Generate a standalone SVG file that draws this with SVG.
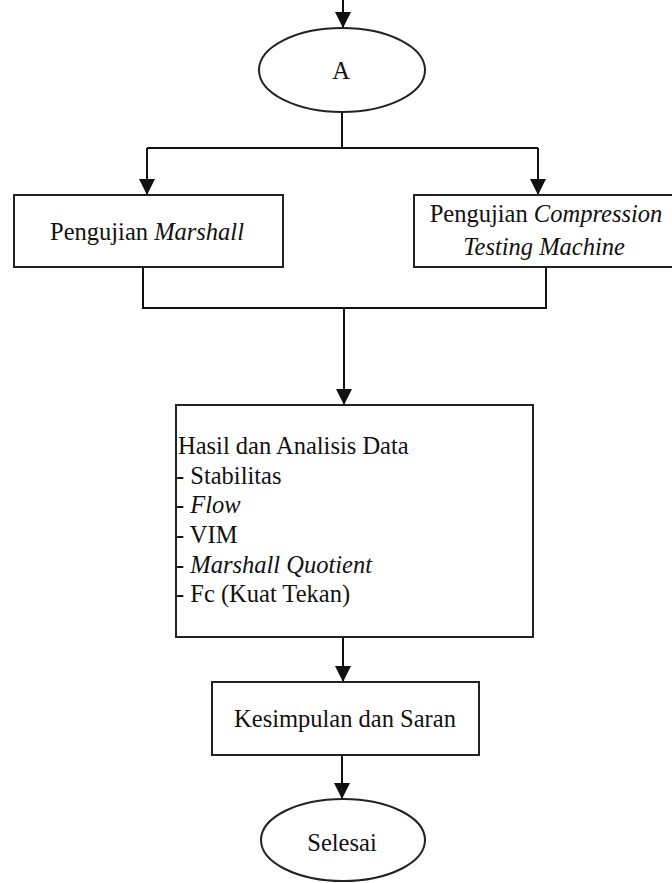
<svg xmlns="http://www.w3.org/2000/svg" width="672" height="883" viewBox="0 0 672 883">
  <style>
    .shape { fill: #ffffff; stroke: #222222; stroke-width: 2; }
    .conn { fill: none; stroke: #111111; stroke-width: 2; }
    text { font-family: "Liberation Serif", "Times New Roman", serif; font-size: 24.5px; fill: #111111; }
    .c { text-anchor: middle; }
    .i { font-style: italic; }
  </style>
  <defs>
    <marker id="arrow" viewBox="0 0 16 16" refX="16" refY="8" markerWidth="16" markerHeight="16" markerUnits="userSpaceOnUse" orient="auto">
      <path d="M0,0 L16,8 L0,16 Z" fill="#111111"/>
    </marker>
  </defs>
  <rect width="672" height="883" fill="#ffffff"/>

  <g id="connectors">
    <line class="conn" x1="343" y1="0" x2="343" y2="28" marker-end="url(#arrow)"/>
    <polyline class="conn" points="342,112 342,148"/>
    <polyline class="conn" points="147,148 538,148"/>
    <line class="conn" x1="147" y1="148" x2="147" y2="195" marker-end="url(#arrow)"/>
    <line class="conn" x1="538" y1="148" x2="538" y2="195" marker-end="url(#arrow)"/>
    <polyline class="conn" points="143,267 143,308 546,308 546,267"/>
    <line class="conn" x1="344" y1="308" x2="344" y2="405" marker-end="url(#arrow)"/>
    <line class="conn" x1="343" y1="637" x2="343" y2="682" marker-end="url(#arrow)"/>
    <line class="conn" x1="342" y1="755" x2="342" y2="799" marker-end="url(#arrow)"/>
  </g>

  <g id="node-a">
    <ellipse class="shape" cx="342" cy="70" rx="83" ry="42"/>
    <text class="c" x="341" y="79">A</text>
  </g>

  <g id="node-marshall">
    <rect class="shape" x="14" y="195" width="269" height="72"/>
    <text class="c" x="147" y="240">Pengujian <tspan class="i">Marshall</tspan></text>
  </g>

  <g id="node-compression">
    <rect class="shape" x="414" y="195" width="263" height="72"/>
    <text class="c" x="546" y="222">Pengujian <tspan class="i">Compression</tspan></text>
    <text class="c i" x="544" y="255">Testing Machine</text>
  </g>

  <g id="node-hasil">
    <rect class="shape" x="176" y="405" width="357" height="232"/>
    <text x="178" y="454">Hasil dan Analisis Data</text>
    <text x="176" y="484">- Stabilitas</text>
    <text x="176" y="513">- <tspan class="i">Flow</tspan></text>
    <text x="176" y="543">- VIM</text>
    <text x="176" y="573">- <tspan class="i">Marshall Quotient</tspan></text>
    <text x="176" y="602">- Fc (Kuat Tekan)</text>
  </g>

  <g id="node-kesimpulan">
    <rect class="shape" x="212" y="682" width="267" height="73"/>
    <text class="c" x="345" y="727">Kesimpulan dan Saran</text>
  </g>

  <g id="node-selesai">
    <ellipse class="shape" cx="343" cy="840" rx="82" ry="41"/>
    <text class="c" x="342" y="851">Selesai</text>
  </g>
</svg>
